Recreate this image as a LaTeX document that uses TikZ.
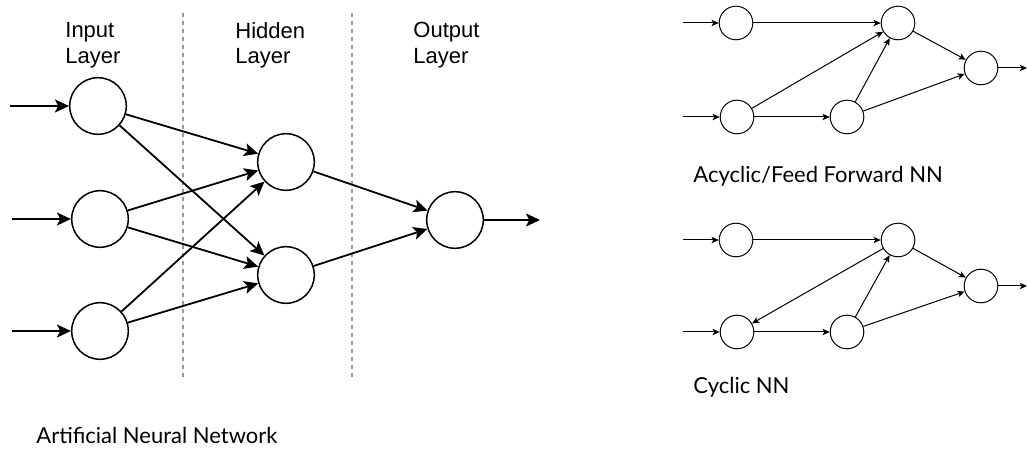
\documentclass[tikz,border=0pt]{standalone}
\usepackage{fontspec}
\setmainfont{Liberation Sans}
\newfontfamily\gillfont{Lato}
\usetikzlibrary{arrows.meta}
\tikzset{
  neuron/.style={draw, circle, line width=0.75pt, minimum size=28.3pt, inner sep=0pt},
  unit/.style={draw, circle, line width=0.5pt, minimum size=16.8pt, inner sep=0pt},
  bigarrow/.style={line width=0.9pt, -{Stealth[length=7pt,width=6.5pt,inset=1.6pt]}},
  thinarrow/.style={line width=0.5pt, -{Stealth[length=3.6pt,width=3.2pt,inset=0.9pt]}},
  layerline/.style={gray!80, line width=0.6pt, dash pattern=on 2pt off 2pt},
  layertitle/.style={anchor=north west, align=left, inner sep=0pt, font=\fontsize{11}{12.8}\selectfont},
  caption/.style={anchor=base west, inner sep=0pt, font=\gillfont\fontsize{11}{13}\selectfont}
}
\begin{document}
\begin{tikzpicture}[x=0.5pt, y=-0.5pt]
  \useasboundingbox (0, 0) rectangle (1027, 453);

  % layered network
  \draw[layerline] (183, 13) -- (183, 378);
  \draw[layerline] (352, 13) -- (352, 378);
  \node[layertitle] (tin) at (65, 22) {Input\\Layer};
  \node[layertitle] (thid) at (235, 22) {Hidden\\Layer};
  \node[layertitle] (tout) at (413, 22) {Output\\Layer};

  \node[neuron] (in1) at (98, 106) {};
  \node[neuron] (in2) at (100, 219) {};
  \node[neuron] (in3) at (100, 331) {};
  \node[neuron] (hid1) at (286, 162) {};
  \node[neuron] (hid2) at (286, 275) {};
  \node[neuron] (out) at (455, 220) {};
  \coordinate (x1) at (10, 106);
  \coordinate (x2) at (12, 219);
  \coordinate (x3) at (12, 331);
  \coordinate (y) at (540, 220);

  \draw[bigarrow] (x1) -- (in1);
  \draw[bigarrow] (x2) -- (in2);
  \draw[bigarrow] (x3) -- (in3);
  \draw[bigarrow] (in1) -- (hid1);
  \draw[bigarrow] (in1) -- (hid2);
  \draw[bigarrow] (in2) -- (hid1);
  \draw[bigarrow] (in2) -- (hid2);
  \draw[bigarrow] (in3) -- (hid1);
  \draw[bigarrow] (in3) -- (hid2);
  \draw[bigarrow] (hid1) -- (out);
  \draw[bigarrow] (hid2) -- (out);
  \draw[bigarrow] (out) -- (y);
  \node[caption] (ann) at (36, 444) {Artificial Neural Network};

  % feed forward
  \node[unit] (fa) at (736, 23) {};
  \node[unit] (fb) at (737, 117) {};
  \node[unit] (fc) at (847, 117) {};
  \node[unit] (fd) at (898, 23) {};
  \node[unit] (fe) at (981, 68) {};
  \coordinate (fxa) at (683, 23);
  \coordinate (fxb) at (683, 117);
  \coordinate (fy) at (1027, 68);
  \draw[thinarrow] (fxa) -- (fa);
  \draw[thinarrow] (fxb) -- (fb);
  \draw[thinarrow] (fa) -- (fd);
  \draw[thinarrow] (fb) -- (fc);
  \draw[thinarrow] (fb) -- (fd);
  \draw[thinarrow] (fc) -- (fd);
  \draw[thinarrow] (fd) -- (fe);
  \draw[thinarrow] (fc) -- (fe);
  \draw[thinarrow] (fe) -- (fy);
  \node[caption] (ff) at (693, 183) {Acyclic/Feed Forward NN};

  % cyclic
  \node[unit] (ca) at (736, 240) {};
  \node[unit] (cb) at (737, 332) {};
  \node[unit] (cc) at (847, 332) {};
  \node[unit] (cd) at (898, 240) {};
  \node[unit] (ce) at (981, 286) {};
  \coordinate (cxa) at (683, 240);
  \coordinate (cxb) at (683, 332);
  \coordinate (cy) at (1027, 286);
  \draw[thinarrow] (cxa) -- (ca);
  \draw[thinarrow] (cxb) -- (cb);
  \draw[thinarrow] (ca) -- (cd);
  \draw[thinarrow] (cb) -- (cc);
  \draw[thinarrow] (cd) -- (cb);
  \draw[thinarrow] (cc) -- (cd);
  \draw[thinarrow] (cd) -- (ce);
  \draw[thinarrow] (cc) -- (ce);
  \draw[thinarrow] (ce) -- (cy);
  \node[caption] (cyc) at (693, 394) {Cyclic NN};
\end{tikzpicture}
\end{document}
